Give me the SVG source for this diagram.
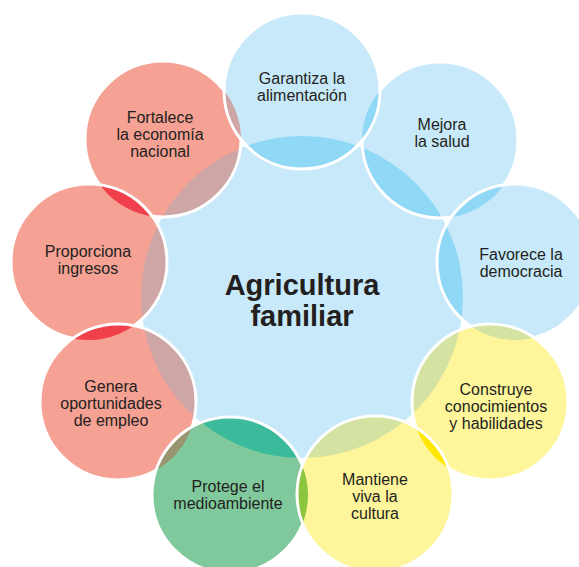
<svg xmlns="http://www.w3.org/2000/svg" width="579" height="567" viewBox="0 0 579 567">
<style>
.blue{fill:#c8e9f9}.yel{fill:#fff59b}.grn{fill:#80c99c}.sal{fill:#f5a193}
.bb{fill:#8fd8f6}.yb{fill:#d4e3a1}.gb{fill:#3bba9c}.sb{fill:#cfa6a6}
.ss{fill:#ef404c}.yy{fill:#ffe700}.yg{fill:#8cc63f}.gs{fill:#999570}
.ring{fill:none;stroke:#ffffff;stroke-width:3}
.t{font-family:"Liberation Sans",Arial,sans-serif;font-size:16px;fill:#231f20;text-anchor:middle}
.big{font-family:"Liberation Sans",Arial,sans-serif;font-size:29px;font-weight:bold;fill:#231f20;text-anchor:middle}
</style>
<defs>
<clipPath id="cC"><circle cx="302" cy="297" r="161"/></clipPath>
<clipPath id="cM"><circle cx="440" cy="140" r="78"/></clipPath>
<clipPath id="cFo"><circle cx="163" cy="139" r="78"/></clipPath>
<clipPath id="cPr"><circle cx="89" cy="262" r="78"/></clipPath>
<clipPath id="cGe"><circle cx="118" cy="402" r="78"/></clipPath>
<clipPath id="cP"><circle cx="230" cy="495" r="78"/></clipPath>
<clipPath id="cF"><circle cx="515" cy="262" r="78"/></clipPath>
<clipPath id="cCo"><circle cx="490" cy="402" r="78"/></clipPath>
</defs>

<g id="node-central">
<circle class="blue" cx="302" cy="297" r="161"/>
<text class="big" x="302" y="295">Agricultura</text>
<text class="big" x="302" y="326">familiar</text>
</g>

<g id="node-mejora">
<circle class="blue" cx="440" cy="140" r="78"/>
<circle class="bb" cx="440" cy="140" r="78" clip-path="url(#cC)"/>
<circle class="ring" cx="440" cy="140" r="78"/>
<text class="t" x="442" y="130">Mejora</text>
<text class="t" x="442" y="147">la salud</text>
</g>

<g id="node-fortalece">
<circle class="sal" cx="163" cy="139" r="78"/>
<circle class="sb" cx="163" cy="139" r="78" clip-path="url(#cC)"/>
<circle class="ring" cx="163" cy="139" r="78"/>
<text class="t" x="160" y="123">Fortalece</text>
<text class="t" x="160" y="140">la economía</text>
<text class="t" x="160" y="157">nacional</text>
</g>

<g id="node-proporciona">
<circle class="sal" cx="89" cy="262" r="78"/>
<circle class="sb" cx="89" cy="262" r="78" clip-path="url(#cC)"/>
<circle class="ss" cx="89" cy="262" r="78" clip-path="url(#cFo)"/>
<circle class="ring" cx="89" cy="262" r="78"/>
<text class="t" x="88" y="257">Proporciona</text>
<text class="t" x="88" y="274">ingresos</text>
</g>

<g id="node-genera">
<circle class="sal" cx="118" cy="402" r="78"/>
<circle class="sb" cx="118" cy="402" r="78" clip-path="url(#cC)"/>
<circle class="ss" cx="118" cy="402" r="78" clip-path="url(#cPr)"/>
<circle class="ring" cx="118" cy="402" r="78"/>
<text class="t" x="111" y="392">Genera</text>
<text class="t" x="111" y="409">oportunidades</text>
<text class="t" x="111" y="426">de empleo</text>
</g>

<g id="node-protege">
<circle class="grn" cx="230" cy="495" r="78"/>
<circle class="gb" cx="230" cy="495" r="78" clip-path="url(#cC)"/>
<circle class="gs" cx="230" cy="495" r="78" clip-path="url(#cGe)"/>
<circle class="ring" cx="230" cy="495" r="78"/>
<text class="t" x="228" y="492">Protege el</text>
<text class="t" x="228" y="509">medioambiente</text>
</g>

<g id="node-favorece">
<circle class="blue" cx="515" cy="262" r="78"/>
<circle class="bb" cx="515" cy="262" r="78" clip-path="url(#cC)"/>
<circle class="bb" cx="515" cy="262" r="78" clip-path="url(#cM)"/>
<circle class="ring" cx="515" cy="262" r="78"/>
<text class="t" x="521" y="260">Favorece la</text>
<text class="t" x="521" y="277">democracia</text>
</g>

<g id="node-construye">
<circle class="yel" cx="490" cy="402" r="78"/>
<circle class="yb" cx="490" cy="402" r="78" clip-path="url(#cC)"/>
<circle class="yb" cx="490" cy="402" r="78" clip-path="url(#cF)"/>
<circle class="ring" cx="490" cy="402" r="78"/>
<text class="t" x="496" y="395">Construye</text>
<text class="t" x="496" y="412">conocimientos</text>
<text class="t" x="496" y="429">y habilidades</text>
</g>

<g id="node-mantiene">
<circle class="yel" cx="375" cy="494" r="78"/>
<circle class="yb" cx="375" cy="494" r="78" clip-path="url(#cC)"/>
<circle class="yy" cx="375" cy="494" r="78" clip-path="url(#cCo)"/>
<circle class="yg" cx="375" cy="494" r="78" clip-path="url(#cP)"/>
<circle class="ring" cx="375" cy="494" r="78"/>
<text class="t" x="375" y="485">Mantiene</text>
<text class="t" x="375" y="502">viva la</text>
<text class="t" x="375" y="519">cultura</text>
</g>

<g id="node-garantiza">
<circle class="blue" cx="302" cy="91" r="78"/>
<circle class="bb" cx="302" cy="91" r="78" clip-path="url(#cC)"/>
<circle class="bb" cx="302" cy="91" r="78" clip-path="url(#cM)"/>
<circle class="sb" cx="302" cy="91" r="78" clip-path="url(#cFo)"/>
<circle class="ring" cx="302" cy="91" r="78"/>
<text class="t" x="302" y="84">Garantiza la</text>
<text class="t" x="302" y="101">alimentación</text>
</g>
</svg>
